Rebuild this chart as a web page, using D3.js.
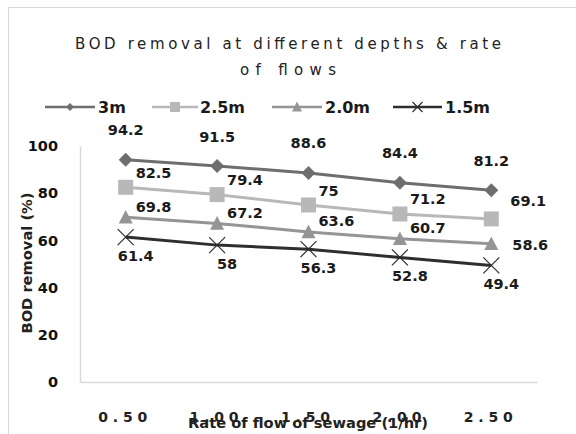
<!DOCTYPE html>
<html><head><meta charset="utf-8">
<script src="https://cdn.jsdelivr.net/npm/d3@7"></script>
<style>body{margin:0;background:#fff}svg{display:block}</style>
</head><body>
<svg id="c" width="576" height="434"></svg>
<script>
const categories = ["0.50", "1.00", "1.50", "2.00", "2.50"];
const seriesNames = ["3m", "2.5m", "2.0m", "1.5m"];
const s3m  = [94.2, 91.5, 88.6, 84.4, 81.2];
const s25m = [82.5, 79.4, 75, 71.2, 69.1];
const s20m = [69.8, 67.2, 63.6, 60.7, 58.6];
const s15m = [61.4, 58, 56.3, 52.8, 49.4];
const yTicks = [0, 20, 40, 60, 80, 100];

const seriesValues = [s3m, s25m, s20m, s15m];
const colors = ["#6e6e6e", "#b8b8b8", "#959595", "#2e2e2e"];
const markers = ["diamond", "square", "triangle", "x"];
// label placement style per series: [anchor, dx, dy] and overrides for the last point
const labelStyle = [
  {anchor: "middle", dx: 0, dy: -30},
  {anchor: "start", dx: 10, dy: -15, last: [19, -18]},
  {anchor: "start", dx: 10, dy: -11, last: [21, 1]},
  {anchor: "middle", dx: 10, dy: 18}
];
const FONT = "DejaVu Sans, sans-serif";

const svg = d3.select("#c");
svg.append("rect").attr("x", 8.5).attr("y", 7.5).attr("width", 620).attr("height", 500)
  .attr("fill", "#fff").attr("stroke", "#d9d9d9");

const x = d3.scaleBand().domain(categories).range([80, 537]);
const y = d3.scaleLinear().domain([0, 100]).range([382, 146]);
const cx = c => x(c) + x.bandwidth() / 2;

// title
const title = svg.append("g").attr("font-family", FONT)
  .attr("font-size", 15).attr("fill", "#222").attr("text-anchor", "middle");
title.append("text").attr("x", 288).attr("y", 49).attr("textLength", 426).attr("lengthAdjust", "spacing")
  .text("BOD removal at different depths & rate");
title.append("text").attr("x", 288).attr("y", 75).attr("textLength", 96).attr("lengthAdjust", "spacing")
  .text("of flows");

// axes
const yAxis = svg.append("g").attr("transform", "translate(80,0)")
  .call(d3.axisLeft(y).tickValues(yTicks).tickSize(0).tickPadding(22).tickFormat(d3.format("d")));
yAxis.select(".domain").attr("stroke", "#d9d9d9").attr("stroke-width", 1.5);
yAxis.selectAll("text").attr("font-family", FONT)
  .attr("font-size", 14.5).attr("font-weight", "bold").attr("fill", "#111");

const xAxis = svg.append("g").attr("transform", "translate(0,382)")
  .call(d3.axisBottom(x).tickSize(0).tickPadding(0));
xAxis.select(".domain").attr("stroke", "#d9d9d9").attr("stroke-width", 1.5);
xAxis.selectAll("text").attr("font-family", FONT)
  .attr("font-size", 14).attr("font-weight", "bold").attr("fill", "#222")
  .attr("textLength", 49).attr("lengthAdjust", "spacing")
  .attr("dy", 0).attr("y", 40).attr("dx", -3);

// axis titles
svg.append("text").attr("x", 308).attr("y", 428).attr("text-anchor", "middle")
  .attr("font-family", FONT).attr("font-size", 14).attr("font-weight", "bold")
  .attr("fill", "#222").attr("textLength", 240).attr("lengthAdjust", "spacingAndGlyphs")
  .text("Rate of flow of sewage (1/hr)");
svg.append("text").attr("transform", "translate(32,263) rotate(-90)").attr("text-anchor", "middle")
  .attr("font-family", FONT).attr("font-size", 14).attr("font-weight", "bold")
  .attr("fill", "#222").attr("textLength", 141).attr("lengthAdjust", "spacingAndGlyphs")
  .text("BOD removal (%)");

function drawMarker(g, type, px, py, s, color) {
  if (type === "diamond") {
    const r = s / 2;
    g.append("path").attr("d", `M${px},${py - r}L${px + r},${py}L${px},${py + r}L${px - r},${py}Z`).attr("fill", color);
  } else if (type === "square") {
    g.append("rect").attr("x", px - s / 2).attr("y", py - s / 2).attr("width", s).attr("height", s).attr("fill", color);
  } else if (type === "triangle") {
    const h = s * 0.9;
    g.append("path").attr("d", `M${px},${py - h / 2 - 1}L${px + s / 2},${py + h / 2}L${px - s / 2},${py + h / 2}Z`).attr("fill", color);
  } else {
    const r = s / 2;
    g.append("path").attr("d", `M${px - r},${py - r}L${px + r},${py + r}M${px - r},${py + r}L${px + r},${py - r}`)
      .attr("stroke", color).attr("stroke-width", 1.2).attr("fill", "none");
  }
}

const line = d3.line().x((d, i) => cx(categories[i])).y(d => y(d));
const plot = svg.append("g");
const sizes = [14, 15, 14, 16];
seriesValues.forEach((vals, si) => {
  const g = plot.append("g");
  g.append("path").datum(vals).attr("d", line).attr("fill", "none")
    .attr("stroke", colors[si]).attr("stroke-width", 3).attr("stroke-linejoin", "round");
  vals.forEach((v, i) => drawMarker(g, markers[si], cx(categories[i]), y(v), sizes[si], colors[si]));
});

// data labels
seriesValues.forEach((vals, si) => {
  const st = labelStyle[si];
  vals.forEach((v, i) => {
    let dx = st.dx, dy = st.dy;
    if (st.last && i === vals.length - 1) { dx = st.last[0]; dy = st.last[1]; }
    svg.append("text").attr("x", cx(categories[i]) + dx).attr("y", y(v) + dy + 5.5)
      .attr("text-anchor", st.anchor).attr("font-family", FONT)
      .attr("font-size", 14.5).attr("font-weight", "bold").attr("fill", "#1a1a1a")
      .text(v);
  });
});

// legend
const legendItems = [
  {x0: 45, x1: 95, tx: 98},
  {x0: 152, x1: 198, tx: 200},
  {x0: 272, x1: 322, tx: 325},
  {x0: 393, x1: 442, tx: 445}
];
const lg = svg.append("g");
seriesNames.forEach((name, si) => {
  const it = legendItems[si], ly = 107;
  lg.append("line").attr("x1", it.x0).attr("x2", it.x1).attr("y1", ly).attr("y2", ly)
    .attr("stroke", colors[si]).attr("stroke-width", 2.5);
  drawMarker(lg, markers[si], (it.x0 + it.x1) / 2, ly, si === 0 ? 8 : 10, colors[si]);
  lg.append("text").attr("x", it.tx).attr("y", ly + 6).attr("font-family", FONT)
    .attr("font-size", 16).attr("font-weight", "bold").attr("fill", "#1a1a1a").text(name);
});
</script>
</body></html>
